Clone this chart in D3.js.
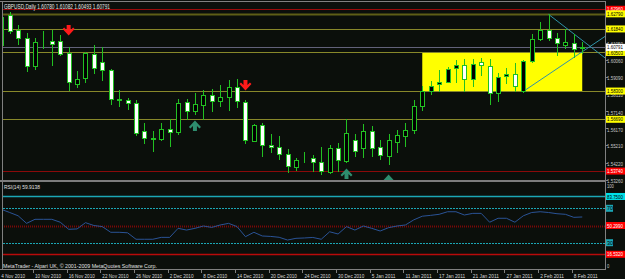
<!DOCTYPE html>
<html>
<head>
<meta charset="utf-8"/>
<script src="https://cdn.jsdelivr.net/npm/d3@7"></script>
<style>
body { margin: 0; background: #0b0f0b; }
svg { display: block; }
text { font-family: "Liberation Sans", Arial, sans-serif; }
</style>
</head>
<body>
<svg id="chart" width="625" height="279"></svg>
<script>
// GBPUSD daily, 4 Nov 2010 - 9 Feb 2011
var dates = ["2010-11-04","2010-11-05","2010-11-08","2010-11-09","2010-11-10","2010-11-11","2010-11-12",
  "2010-11-15","2010-11-16","2010-11-17","2010-11-18","2010-11-19","2010-11-22","2010-11-23","2010-11-24",
  "2010-11-25","2010-11-26","2010-11-29","2010-11-30","2010-12-01","2010-12-02","2010-12-03","2010-12-06",
  "2010-12-07","2010-12-08","2010-12-09","2010-12-10","2010-12-13","2010-12-14","2010-12-15","2010-12-16",
  "2010-12-17","2010-12-20","2010-12-21","2010-12-22","2010-12-23","2010-12-24","2010-12-27","2010-12-28",
  "2010-12-29","2010-12-30","2010-12-31","2011-01-03","2011-01-04","2011-01-05","2011-01-06","2011-01-07",
  "2011-01-10","2011-01-11","2011-01-12","2011-01-13","2011-01-14","2011-01-17","2011-01-18","2011-01-19",
  "2011-01-20","2011-01-21","2011-01-24","2011-01-25","2011-01-26","2011-01-27","2011-01-28","2011-01-31",
  "2011-02-01","2011-02-02","2011-02-03","2011-02-04","2011-02-07","2011-02-08","2011-02-09"];

var open  = [1.6092,1.6261,1.6177,1.6130,1.5975,1.6110,1.6113,1.6116,1.6045,1.5871,
             1.5903,1.6041,1.5997,1.5951,1.5783,1.5779,1.5762,1.5602,1.5562,1.5559,
             1.5615,1.5598,1.5766,1.5715,1.5753,1.5805,1.5771,1.5796,1.5851,1.5768,
             1.5548,1.5638,1.5521,1.5512,1.5474,1.5399,1.5440,1.5446,1.5423,1.5370,
             1.5506,1.5432,1.5549,1.5508,1.5600,1.5511,1.5460,1.5540,1.5574,1.5606,
             1.5743,1.5832,1.5870,1.5883,1.5960,1.5979,1.5898,1.5994,1.5975,1.5819,
             1.5913,1.5926,1.5828,1.6003,1.6124,1.6177,1.6130,1.6092,1.6105,1.6078];
var high  = [1.6295,1.6280,1.6205,1.6160,1.6131,1.6171,1.6177,1.6148,1.6079,1.5947,
             1.6051,1.6092,1.6079,1.5954,1.5834,1.5792,1.5781,1.5649,1.5602,1.5649,
             1.5672,1.5787,1.5787,1.5819,1.5834,1.5841,1.5862,1.5894,1.5901,1.5781,
             1.5645,1.5649,1.5583,1.5574,1.5499,1.5446,1.5480,1.5465,1.5514,1.5521,
             1.5532,1.5672,1.5583,1.5645,1.5630,1.5551,1.5583,1.5608,1.5649,1.5781,
             1.5856,1.5888,1.5951,1.5966,1.6007,1.6011,1.6011,1.6017,1.6011,1.5932,
             1.5960,1.5988,1.6007,1.6154,1.6224,1.6267,1.6161,1.6186,1.6154,1.6108];
var low   = [1.6075,1.6160,1.6098,1.5947,1.5956,1.6075,1.5979,1.6035,1.5837,1.5851,
             1.5884,1.5932,1.5894,1.5759,1.5743,1.5725,1.5578,1.5532,1.5489,1.5551,
             1.5517,1.5583,1.5668,1.5702,1.5672,1.5715,1.5747,1.5721,1.5740,1.5536,
             1.5544,1.5461,1.5480,1.5442,1.5367,1.5382,1.5423,1.5376,1.5356,1.5363,
             1.5376,1.5423,1.5461,1.5457,1.5461,1.5442,1.5414,1.5480,1.5517,1.5593,
             1.5721,1.5815,1.5828,1.5879,1.5879,1.5832,1.5856,1.5922,1.5757,1.5771,
             1.5875,1.5828,1.5822,1.5997,1.6120,1.6120,1.6035,1.6073,1.6022,1.6049];
var close = [1.6250,1.6175,1.6130,1.5975,1.6110,1.6108,1.6101,1.6041,1.5879,1.5899,
             1.6045,1.5960,1.5951,1.5785,1.5780,1.5764,1.5589,1.5562,1.5559,1.5615,
             1.5598,1.5762,1.5717,1.5757,1.5809,1.5774,1.5796,1.5853,1.5771,1.5551,
             1.5638,1.5525,1.5510,1.5474,1.5401,1.5435,1.5441,1.5427,1.5374,1.5503,
             1.5436,1.5593,1.5487,1.5600,1.5508,1.5465,1.5549,1.5578,1.5606,1.5743,
             1.5828,1.5860,1.5884,1.5958,1.5979,1.5898,1.5983,1.5979,1.5819,1.5909,
             1.5926,1.5856,1.6003,1.6124,1.6177,1.6130,1.6105,1.6109,1.6067,1.6079];

var rsi = [68.8,65.1,61.3,52.5,57.2,57.2,57.2,53.8,45.6,46.0,
           53.3,50.0,48.7,42.1,42.1,41.5,34.0,34.0,34.0,36.2,
           36.2,46.7,44.7,46.7,49.4,47.8,50.6,52.5,48.7,37.0,
           42.1,37.8,37.3,36.3,33.1,35.1,35.5,36.1,34.0,42.7,
           40.1,48.7,44.7,49.4,46.7,43.6,47.5,49.4,50.6,56.6,
           60.8,61.8,63.0,66.0,66.0,62.2,64.1,64.1,53.8,58.4,
           58.4,53.8,61.3,65.1,66.0,65.1,63.7,63.0,59.5,59.91];

// horizontal levels drawn on the price chart
var levels = [1.6296, 1.6270, 1.6184, 1.6050, 1.5830, 1.5669, 1.5374];
var levelLabels = ["1.62960","1.62790","1.61840","1.60503","1.58300","1.56690","1.53740"];
var bidLabel = "1.60791";
var priceTicks = [1.6105, 1.6006, 1.5909, 1.5811, 1.5714, 1.5617, 1.5521, 1.5422, 1.5326];

// yellow box: bar range and price range
var boxBars = [50, 69];
var boxPrices = [1.6050, 1.5830];

// trend rays: two anchors each (bar index, price)
var trendBars = [[65, 69], [62, 69]];
var trendPrices = [[1.6267, 1.6119], [1.5828, 1.6054]];

// fractal arrows (bar index, price of arrow top)
var downArrowBars = [8, 29];
var downArrowPrices = [1.6206, 1.5893];
var upArrowBars = [23, 41, 46];
var upArrowPrices = [1.5665, 1.5392, 1.5357];

var rsiLevels = [83.75, 70, 50, 30, 16.53];
var rsiLabels = ["83.7500", "70", "50.2990", "30", "16.5320"];

var dateTickBars = [0,4,8,12,16,20,24,28,32,36,40,44,48,52,56,60,64,68];
var title = "GBPUSD,Daily  1.60780 1.61082 1.60493 1.60791";

var bg = "#0b0f0b", green = "#22c022";

var svg = d3.select("#chart");
svg.append("rect").attr("width", 625).attr("height", 279).attr("fill", bg);

var x = d3.scaleLinear().domain([0, 72]).range([1.3, 607.5]);
var y = d3.scaleLinear().domain([1.5326, 1.6105]).range([179.5, 42.8]);
var yr = d3.scaleLinear().domain([0, 100]).range([268.5, 182.5]);
var px = function(i) { return Math.round(x(i)) + 0.5; };
var fmtDate = d3.timeFormat("%-d %b %Y"), parse = d3.timeParse("%Y-%m-%d");

var defs = svg.append("defs");
defs.append("clipPath").attr("id", "clipMain").append("rect")
  .attr("x", 3).attr("y", 2).attr("width", 602).attr("height", 178);
defs.append("clipPath").attr("id", "clipRsi").append("rect")
  .attr("x", 3).attr("y", 182).attr("width", 602).attr("height", 87);

var main = svg.append("g").attr("clip-path", "url(#clipMain)");

// yellow rectangle
main.append("rect")
  .attr("x", x(boxBars[0])).attr("y", y(boxPrices[0]))
  .attr("width", x(boxBars[1]) - x(boxBars[0]))
  .attr("height", y(boxPrices[1]) - y(boxPrices[0]))
  .attr("fill", "#ffff00");

// level lines
var levelStroke = ["#9a0a0a", "#5e5e16", "#88882a", "#88882a", "#88882a", "#88882a", "#8a0a0a"];
var levelWidth = [1, 2, 1, 1, 1, 1, 1];
levels.forEach(function(p, k) {
  var yy = Math.round(y(p)) + 0.5;
  main.append("line").attr("x1", 0).attr("x2", 606).attr("y1", yy).attr("y2", yy)
    .attr("stroke", levelStroke[k]).attr("stroke-width", levelWidth[k]);
});
// bid line
var bidY = Math.round(y(close[close.length - 1])) + 0.5;
main.append("line").attr("x1", 0).attr("x2", 606).attr("y1", bidY).attr("y2", bidY)
  .attr("stroke", "#62627a").attr("stroke-width", 1);

// trend rays
var xEnd = x.invert(606);
trendBars.forEach(function(b, k) {
  var p = trendPrices[k];
  var pe = p[0] + (p[1] - p[0]) * (xEnd - b[0]) / (b[1] - b[0]);
  main.append("line")
    .attr("x1", x(b[0])).attr("y1", y(p[0]))
    .attr("x2", x(xEnd)).attr("y2", y(pe))
    .attr("stroke", "#2f93a8").attr("stroke-width", 1);
});

// candles
var idx = d3.range(dates.length);
main.selectAll("line.wick").data(idx).enter().append("line")
  .attr("class", "wick")
  .attr("x1", px).attr("x2", px)
  .attr("y1", function(i) { return Math.round(y(high[i])); })
  .attr("y2", function(i) { return Math.round(y(low[i])) + 1; })
  .attr("stroke", green).attr("stroke-width", 1);

main.selectAll("rect.body").data(idx).enter().append("rect")
  .attr("class", "body")
  .attr("x", function(i) { return px(i) - 2; })
  .attr("y", function(i) { return Math.round(y(Math.max(open[i], close[i]))) + 0.5; })
  .attr("width", 4)
  .attr("height", function(i) {
    return Math.max(0, Math.round(y(Math.min(open[i], close[i]))) - Math.round(y(Math.max(open[i], close[i]))));
  })
  .attr("fill", function(i) { return close[i] < open[i] ? "#ffffff" : "#000000"; })
  .attr("stroke", green).attr("stroke-width", 1);

// arrows
var arrowPath = "M-2,0 H2 V5 L4.5,2.5 L6,4 L0,10.5 L-6,4 L-4.5,2.5 L-2,5 Z";
downArrowBars.forEach(function(b, k) {
  main.append("path").attr("d", arrowPath)
    .attr("transform", "translate(" + x(b) + "," + y(downArrowPrices[k]) + ")")
    .attr("fill", "#ff1a1a");
});
upArrowBars.forEach(function(b, k) {
  main.append("path").attr("d", arrowPath)
    .attr("transform", "translate(" + x(b) + "," + (y(upArrowPrices[k]) + 11) + ") scale(1,-1)")
    .attr("fill", "#2e8d6e");
});

// RSI panel
var sub = svg.append("g").attr("clip-path", "url(#clipRsi)");
var rsiStroke = ["#1ba6b5", "#1ba6b5", "#7a0808", "#1ba6b5", "#b80a0a"];
var rsiWidth = [1.5, 1, 2, 1, 1.5];
var rsiDash = [null, "2,1", "1,1", "2,1", null];
rsiLevels.forEach(function(v, k) {
  var yy = Math.round(yr(v)) + 0.5;
  sub.append("line").attr("x1", 0).attr("x2", 606).attr("y1", yy).attr("y2", yy)
    .attr("stroke", rsiStroke[k]).attr("stroke-width", rsiWidth[k])
    .attr("stroke-dasharray", rsiDash[k]);
});
sub.append("path").datum(rsi)
  .attr("d", d3.line().x(function(d, i) { return x(i); }).y(function(d) { return yr(d); }))
  .attr("fill", "none").attr("stroke", "#2a5396").attr("stroke-width", 1);

// frame
var frame = "#808080";
svg.append("line").attr("x1", 0).attr("x2", 606).attr("y1", 1.5).attr("y2", 1.5).attr("stroke", frame);
svg.append("line").attr("x1", 2.5).attr("x2", 2.5).attr("y1", 1).attr("y2", 270).attr("stroke", frame);
svg.append("line").attr("x1", 605.5).attr("x2", 605.5).attr("y1", 1).attr("y2", 270).attr("stroke", frame);
svg.append("line").attr("x1", 0).attr("x2", 606).attr("y1", 269.5).attr("y2", 269.5).attr("stroke", frame);
svg.append("rect").attr("x", 0).attr("y", 180).attr("width", 606).attr("height", 2).attr("fill", "#7c7c7c");

// texts
svg.append("text").attr("x", 4).attr("y", 8.5).attr("font-size", 6.5).attr("fill", "#e8e8e8")
  .attr("textLength", 106).attr("lengthAdjust", "spacingAndGlyphs").text(title);
svg.append("text").attr("x", 4).attr("y", 189).attr("font-size", 6).attr("fill", "#e0e0e0")
  .attr("textLength", 36).attr("lengthAdjust", "spacingAndGlyphs").text("RSI(14) 59.9138");
svg.append("text").attr("x", 3).attr("y", 267.5).attr("font-size", 5.8).attr("fill", "#e0e0e0")
  .attr("textLength", 154).attr("lengthAdjust", "spacingAndGlyphs")
  .text("MetaTrader - Alpari UK, \u00a9 2001-2009 MetaQuotes Software Corp.");

// date axis
dateTickBars.forEach(function(b) {
  var xx = Math.round(x(b)) - 1.5;
  if (b > 0) svg.append("line").attr("x1", xx).attr("x2", xx).attr("y1", 270).attr("y2", 273).attr("stroke", frame);
  var lbl = fmtDate(parse(dates[b]));
  svg.append("text").attr("x", Math.max(1, x(b))).attr("y", 277.5).attr("font-size", 5.6)
    .attr("fill", "#d8d8d8")
    .attr("textLength", lbl.length * 2.38).attr("lengthAdjust", "spacingAndGlyphs").text(lbl);
});

// right price axis
function axisLabel(yy, txt, boxFill, textFill) {
  if (boxFill) {
    svg.append("rect").attr("x", 606).attr("y", yy - 3.5).attr("width", 19).attr("height", 7).attr("fill", boxFill);
  }
  svg.append("text").attr("x", 607).attr("y", yy + 2.1).attr("font-size", 5.4).attr("fill", textFill)
    .attr("textLength", Math.min(16, txt.length * 2.3)).attr("lengthAdjust", "spacingAndGlyphs").text(txt);
}
priceTicks.forEach(function(p) {
  var yy = y(p);
  svg.append("line").attr("x1", 606).attr("x2", 608).attr("y1", Math.round(yy) + 0.5).attr("y2", Math.round(yy) + 0.5).attr("stroke", frame);
  axisLabel(yy + 1, p.toFixed(5), null, "#c8c8c8");
});
var levelBox = ["#ff0000", "#ffff00", "#ffff00", "#ffff00", "#ffff00", "#ffff00", "#ff0000"];
var levelText = ["#ffffff", "#000000", "#000000", "#000000", "#000000", "#000000", "#ffffff"];
levels.forEach(function(p, k) { axisLabel(y(p), levelLabels[k], levelBox[k], levelText[k]); });
axisLabel(y(close[close.length - 1]), bidLabel, "#ffffff", "#000000");

// right RSI axis
axisLabel(yr(100) + 3, "100", null, "#c8c8c8");
axisLabel(yr(0) - 2.5, "0", null, "#c8c8c8");
var rsiBox = ["#00e0e8", "#1ba6b5", "#ff0000", "#1ba6b5", "#ff0000"];
var rsiText = ["#000000", "#000000", "#ffffff", "#000000", "#ffffff"];
rsiLevels.forEach(function(v, k) {
  var yy = yr(v);
  if (rsiLabels[k].length <= 3) {
    svg.append("rect").attr("x", 606).attr("y", yy - 3.5).attr("width", 7).attr("height", 7).attr("fill", rsiBox[k]);
    svg.append("text").attr("x", 607).attr("y", yy + 2.1).attr("font-size", 5.4).attr("fill", rsiText[k]).text(rsiLabels[k]);
  } else {
    axisLabel(yy, rsiLabels[k], rsiBox[k], rsiText[k]);
  }
});
</script>
</body>
</html>
